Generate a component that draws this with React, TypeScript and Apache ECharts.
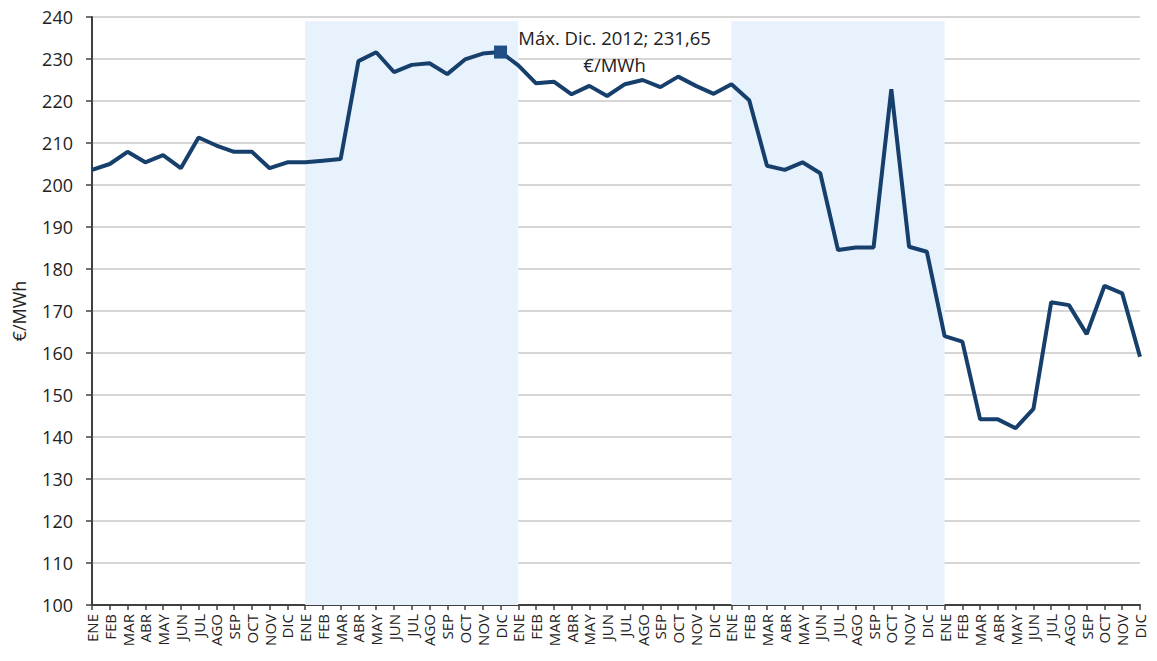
import React, { useEffect, useRef } from "react";
import * as echarts from "echarts";

const months = ["ENE", "FEB", "MAR", "ABR", "MAY", "JUN", "JUL", "AGO", "SEP", "OCT", "NOV", "DIC"];
const years = [2011, 2012, 2013, 2014, 2015];
const categories = years.flatMap((y) => months.map((m) => `${m}-${y}`));

const prices2011 = [203.6, 205.0, 207.9, 205.4, 207.1, 204.0, 211.3, 209.4, 207.9, 207.9, 204.0, 205.4];
const prices2012 = [205.4, 205.8, 206.2, 229.5, 231.6, 226.9, 228.6, 229.0, 226.4, 229.9, 231.3, 231.65];
const prices2013 = [228.5, 224.2, 224.6, 221.6, 223.6, 221.2, 224.0, 225.0, 223.3, 225.8, 223.6, 221.7];
const prices2014 = [224.0, 220.2, 204.6, 203.6, 205.4, 202.8, 184.5, 185.1, 185.1, 222.8, 185.3, 184.1];
const prices2015 = [164.0, 162.7, 144.2, 144.2, 142.1, 146.7, 172.1, 171.4, 164.5, 176.0, 174.2, 159.1];
const prices = [...prices2011, ...prices2012, ...prices2013, ...prices2014, ...prices2015];

const maxIndex = 23;
const maxLabel = "Máx. Dic. 2012; 231,65\n€/MWh";
const shadedYears = [2012, 2014];

export default function App() {
  const ref = useRef<HTMLDivElement>(null);
  useEffect(() => {
    if (!ref.current) return;
    const chart = echarts.init(ref.current, undefined, { renderer: "svg" });
    const font = "'Open Sans', 'Noto Sans', sans-serif";
    const bands = shadedYears.map((y) => {
      const start = years.indexOf(y) * 12;
      return [
        { xAxis: start, yAxis: 100 },
        { xAxis: start + 12, yAxis: 239 },
      ];
    });
    chart.setOption({
      animation: false,
      grid: { left: 92, right: 17, top: 17, bottom: 56, containLabel: false, outerBoundsMode: "none" },
      xAxis: {
        type: "category",
        data: categories,
        boundaryGap: false,
        axisLine: { lineStyle: { color: "#404040", width: 2 } },
        axisTick: { show: true, interval: 0, length: 5, lineStyle: { color: "#404040", width: 1.5 } },
        axisLabel: {
          interval: 0,
          rotate: 90,
          margin: 9,
          fontSize: 15,
          color: "#222",
          fontFamily: font,
          formatter: (v: string) => v.split("-")[0],
        },
        splitLine: { show: false },
      },
      yAxis: {
        type: "value",
        min: 100,
        max: 240,
        interval: 10,
        name: "€/MWh",
        nameLocation: "middle",
        nameGap: 64,
        nameRotate: 90,
        nameTextStyle: { fontSize: 18, color: "#222", fontFamily: font },
        axisLine: { show: true, lineStyle: { color: "#404040", width: 2 } },
        axisTick: { show: true, length: 6, lineStyle: { color: "#404040", width: 1.5 } },
        axisLabel: { fontSize: 18, color: "#222", margin: 19, fontFamily: font },
        splitLine: { lineStyle: { color: "#c8c8c8", width: 1.5 } },
      },
      series: [
        {
          type: "line",
          data: prices,
          symbol: "none",
          lineStyle: { color: "#173f6c", width: 4 },
          z: 3,
          markArea: {
            silent: true,
            itemStyle: { color: "#e8f2fd" },
            data: bands,
          },
          markPoint: {
            symbol: "rect",
            symbolSize: 13,
            itemStyle: { color: "#1f4e85" },
            label: {
              show: true,
              formatter: maxLabel,
              position: "inside",
              offset: [114, -1],
              align: "center",
              verticalAlign: "middle",
              lineHeight: 27,
              fontSize: 18.5,
              color: "#222",
              fontFamily: font,
            },
            data: [{ coord: [maxIndex, prices[maxIndex]] }],
          },
        },
      ],
    });
    return () => chart.dispose();
  }, []);
  return <div ref={ref} style={{ width: 1157, height: 661, margin: -8 }} />;
}
